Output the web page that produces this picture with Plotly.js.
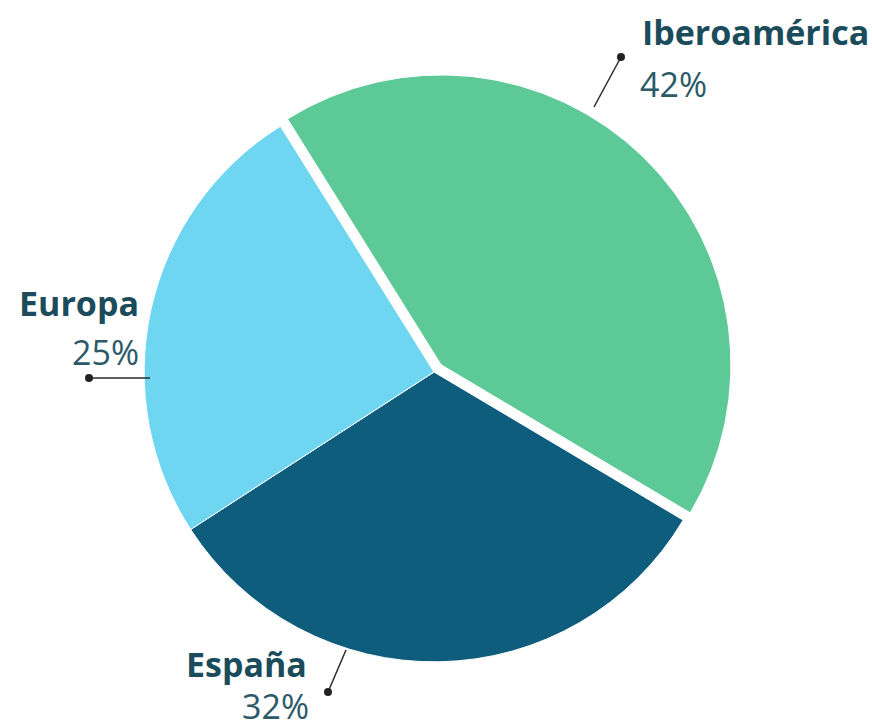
<!DOCTYPE html>
<html>
<head>
<meta charset="utf-8">
<script src="https://cdn.plot.ly/plotly-3.0.1.min.js"></script>
<style>
  html, body { margin: 0; padding: 0; background: #fff; }
  #chart { width: 872px; height: 728px; }
</style>
</head>
<body>
<div id="chart"></div>
<script>
// datos del gráfico
const regiones = ['Iberoamérica', 'España', 'Europa'];
const porcentajes = [42, 32, 25];
const etiquetasPct = ['42%', '32%', '25%'];
const colores = ['#5cc996', '#0f5d7c', '#6ed6f0'];
const separacion = [0.035, 0, 0];

const W = 872, H = 728;
// pasar de pixeles a coordenadas de papel
function px(x) { return x / W; }
function py(y) { return 1 - y / H; }

// posiciones de las etiquetas y de las lineas guia (en pixeles)
const guias = [
    { nombre: [640, 32], pct: [638, 84], xanchor: 'left', from: [594, 107], dot: [621, 57] },
    { nombre: [309, 664], pct: [311, 706], xanchor: 'right', from: [346, 650], dot: [328, 692] },
    { nombre: [141, 303], pct: [141, 352], xanchor: 'right', from: [150, 378], dot: [89, 378] }
];

let shapes = [];
let annotations = [];
guias.forEach((g, i) => {
    shapes.push({
        type: 'line', xref: 'paper', yref: 'paper',
        x0: px(g.from[0]), y0: py(g.from[1]), x1: px(g.dot[0]), y1: py(g.dot[1]),
        line: { color: '#2b2b2b', width: 1.5 }
    });
    shapes.push({
        type: 'circle', xref: 'paper', yref: 'paper',
        x0: px(g.dot[0] - 4), y0: py(g.dot[1] - 4), x1: px(g.dot[0] + 4), y1: py(g.dot[1] + 4),
        fillcolor: '#222', line: { width: 0 }
    });
    annotations.push({
        xref: 'paper', yref: 'paper',
        x: px(g.nombre[0]), y: py(g.nombre[1]),
        xanchor: g.xanchor, yanchor: 'middle',
        showarrow: false,
        text: '<b>' + regiones[i] + '</b>',
        font: { family: 'Open Sans, sans-serif', size: 34, color: '#1b4c5b' }
    });
    annotations.push({
        xref: 'paper', yref: 'paper',
        x: px(g.pct[0]), y: py(g.pct[1]),
        xanchor: g.xanchor, yanchor: 'middle',
        showarrow: false,
        text: etiquetasPct[i],
        font: { family: 'Open Sans, sans-serif', size: 34, color: '#2c5a68' }
    });
});

let data = [{
    type: 'pie',
    labels: regiones,
    values: porcentajes,
    sort: false,
    direction: 'clockwise',
    rotation: -32,
    pull: separacion,
    textinfo: 'none',
    hoverinfo: 'label+percent',
    marker: { colors: colores, line: { color: '#ffffff', width: 1 } },
    domain: { x: [px(134), px(734)], y: [py(672), py(72)] }
}];

let layout = {
    width: W,
    height: H,
    margin: { l: 0, r: 0, t: 0, b: 0 },
    paper_bgcolor: '#ffffff',
    showlegend: false,
    shapes: shapes,
    annotations: annotations
};

Plotly.newPlot('chart', data, layout, { displayModeBar: false });
</script>
</body>
</html>
